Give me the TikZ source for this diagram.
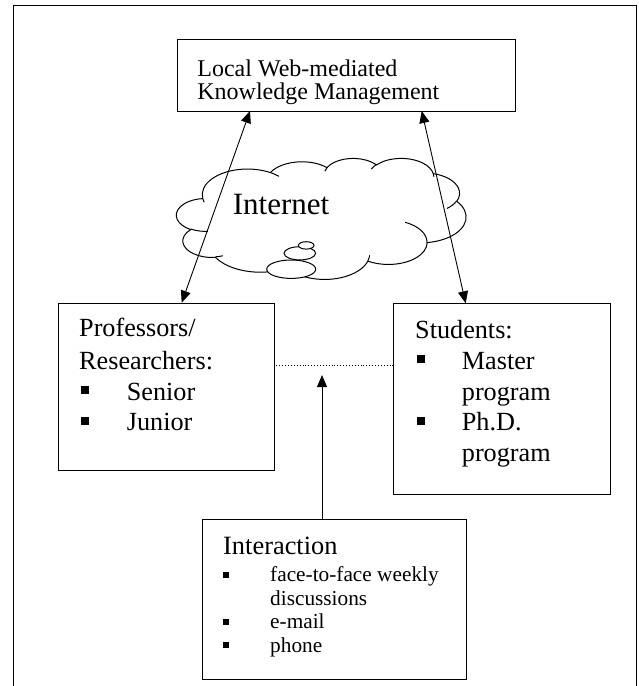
\documentclass[tikz,border=0pt]{standalone}
\usepackage{fontspec}
\setmainfont{Liberation Serif}
\usetikzlibrary{arrows.meta}
\newcommand\fsz[1]{\fontsize{#1}{#1}\selectfont}
\newcommand\carc[4]{arc[x radius=#1, y radius=#2, start angle={cpt(#1,#2,#3)}, delta angle={mod(cpt(#1,#2,#3+#4)-cpt(#1,#2,#3)+720,360)}]}
\begin{document}
\begin{tikzpicture}[x=1pt,y=-1pt,
  declare function={cpt(\a,\b,\t)=atan2((\a)*sin(\t),(\b)*cos(\t));},
  box/.style={draw, line width=1.1pt, inner sep=0pt, anchor=north west},
  lbl/.style={anchor=base west, inner sep=0pt},
  bul/.style={fill, inner sep=0pt, minimum size=#1},
  bul/.default=8pt,
  conn/.style={line width=0.9pt, {Triangle[length=12pt,width=10pt]}-{Triangle[length=12pt,width=10pt]}},
  uni/.style={line width=0.9pt, -{Triangle[length=12pt,width=10pt]}},
  cl/.style={line width=1pt}]
\useasboundingbox (0,0) rectangle (638,686);
% outer frame
\draw[line width=1.3pt] (13.3,686) -- (13.3,5.3) -- (636.7,5.3) -- (636.7,686);
% top box
\node[box, minimum width=338pt, minimum height=72pt] (km) at (176.5,39) {};
\node[lbl, font=\fsz{24}] (km1) at (197.2,76) {Local Web-mediated};
\node[lbl, font=\fsz{24}] (km2) at (197.2,99) {Knowledge Management};
% cloud
\begin{scope}[shift={(176.5,158)}, x=0.67014pt, y=-0.28009pt]
\draw[cl, fill=white] (39,143.7) \carc{67.53}{91.90}{-190.4875}{123.7805}
  \carc{53.33}{72.67}{-144.1024}{89.9452}
  \carc{43.65}{59.45}{-145.8079}{99.7230}
  \carc{48.57}{65.95}{-130.9861}{117.2417}
  \carc{53.33}{72.73}{-78.7089}{109.0269}
  \carc{67.75}{92.20}{-46.2673}{130.2690}
  \carc{57.85}{78.67}{0.6250}{114.0333}
  \carc{67.52}{92.15}{22.4516}{115.1726}
  \carc{77.20}{105.43}{66.2426}{75.7110}
  \carc{43.60}{59.18}{-274.9421}{146.7356}
  \carc{43.45}{59.45}{-246.8285}{152.5189} -- cycle;
\draw[cl] (46.93,261.77) \carc{43.45}{59.45}{86.7420}{26.4295}
  (69.28,348.99) \carc{43.60}{59.18}{73.6105}{11.4475}
  (164.78,390.90) \carc{67.52}{92.15}{137.6242}{14.0811}
  (288.27,347.51) \carc{67.52}{92.15}{6.4533}{15.9984}
  (341.29,229.54) \carc{57.85}{78.67}{-70.2924}{70.9174}
  (417.98,153.54) \carc{53.33}{72.73}{30.3180}{27.7515}
  (383.24,54.26) \carc{48.57}{65.95}{-13.7443}{14.8589}
  (290.78,39.52) \carc{48.57}{65.95}{-149.1815}{18.1954}
  (221.41,47.20) \carc{43.65}{59.45}{-163.4943}{17.6864}
  (140.00,51.92) \carc{67.53}{91.90}{-66.7070}{12.3194}
  (41.27,157.89) \carc{67.53}{91.90}{157.6544}{11.8582};
\end{scope}
\draw[cl, fill=white] (291.2,269.2) ellipse [x radius=24.5, y radius=9.2];
\draw[cl, fill=white] (299.8,253.3) ellipse [x radius=15.8, y radius=6.6];
\draw[cl, fill=white] (306.2,245.4) ellipse [x radius=7.8, y radius=3.7];
\node[lbl, font=\fsz{31}] (net) at (232.7,214.3) {Internet};
% left box
\node[box, minimum width=215.8pt, minimum height=167.3pt] (prof) at (57.7,302.7) {};
\node[lbl, font=\fsz{26.2}] (p1) at (79,336.7) {Professors/};
\node[lbl, font=\fsz{26.2}] (p2) at (79,369) {Researchers:};
\node[bul] (pb1) at (84.5,390.3) {};
\node[lbl, font=\fsz{26.2}] (p3) at (126.7,400) {Senior};
\node[bul] (pb2) at (84.5,420.8) {};
\node[lbl, font=\fsz{26.2}] (p4) at (126.7,430.5) {Junior};
% right box
\node[box, minimum width=216.7pt, minimum height=190.7pt] (stu) at (393.3,303.3) {};
\node[lbl, font=\fsz{26.2}] (s1) at (415,338) {Students:};
\node[bul] (sb1) at (421,359.3) {};
\node[lbl, font=\fsz{26.2}] (s2) at (461.7,369) {Master};
\node[lbl, font=\fsz{26.2}] (s3) at (461.7,400) {program};
\node[bul] (sb2) at (421,420.5) {};
\node[lbl, font=\fsz{26.2}] (s4) at (461.7,430.5) {Ph.D.};
\node[lbl, font=\fsz{26.2}] (s5) at (461.7,461.5) {program};
% interaction box
\node[box, minimum width=263.5pt, minimum height=159.5pt] (int) at (202,519) {};
\node[lbl, font=\fsz{26.4}] (i0) at (223,554) {Interaction};
\node[bul=6pt] (ib1) at (226.3,574.5) {};
\node[lbl, font=\fsz{21.3}] (i1) at (270,581.5) {face-to-face weekly};
\node[lbl, font=\fsz{21.3}] (i2) at (270,605) {discussions};
\node[bul=6pt] (ib2) at (226.3,621.5) {};
\node[lbl, font=\fsz{21.3}] (i3) at (270,628.5) {e-mail};
\node[bul=6pt] (ib3) at (226.3,645) {};
\node[lbl, font=\fsz{21.3}] (i4) at (270,652) {phone};
% connector end points
\coordinate (kmL) at (250,111);
\coordinate (kmR) at (421.7,111);
\coordinate (profT) at (181.7,302.7);
\coordinate (stuT) at (465.7,303.3);
\coordinate (dotL) at (273.5,365.5);
\coordinate (dotR) at (393.3,365.5);
\coordinate (intT) at (322,519);
\coordinate (tipV) at (322,375);
% connectors
\draw[conn] (kmL) -- (profT);
\draw[conn] (kmR) -- (stuT);
\draw[line width=0.9pt, dotted] (dotL) -- (dotR);
\draw[uni] (intT) -- (tipV);
\end{tikzpicture}
\end{document}
